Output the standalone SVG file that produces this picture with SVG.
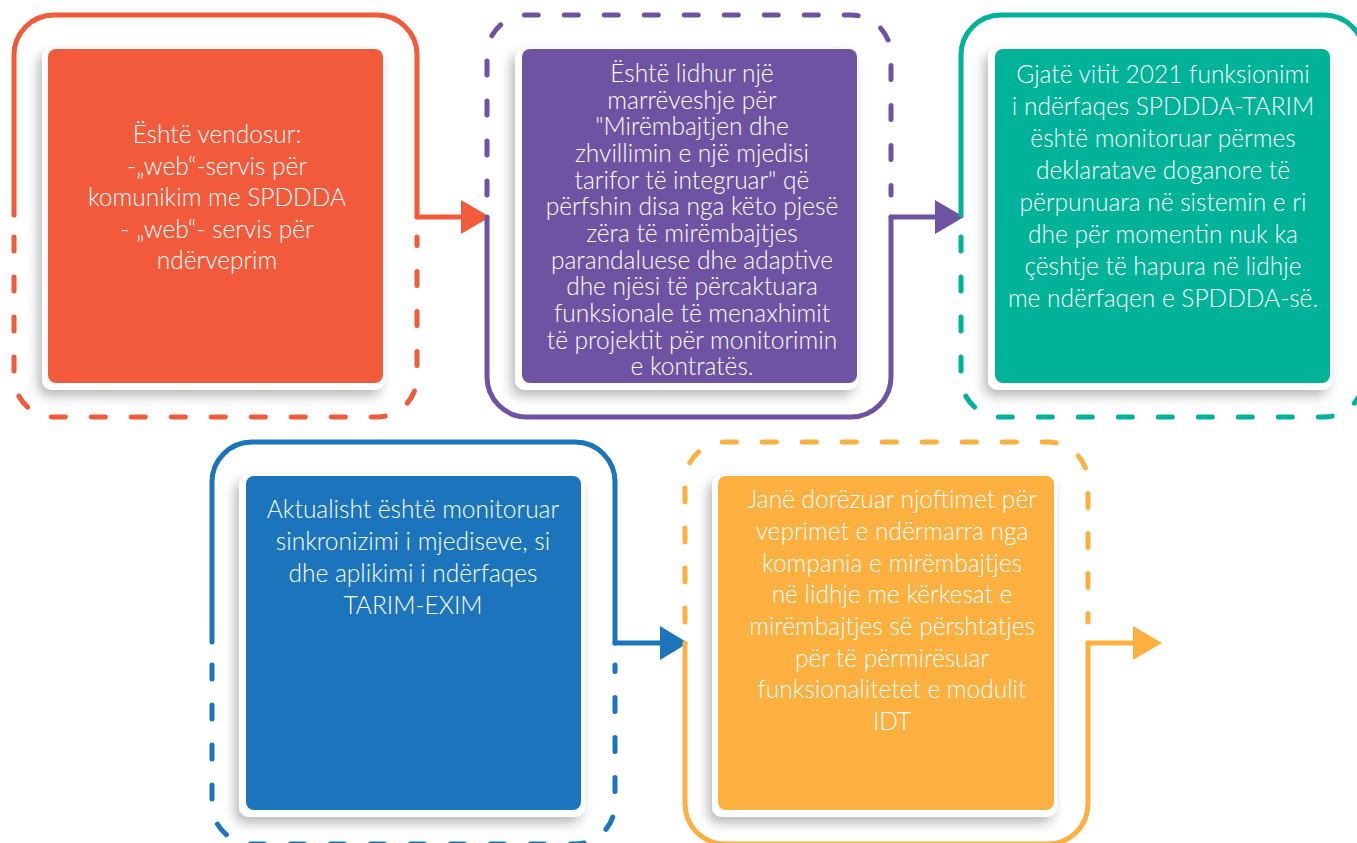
<svg xmlns="http://www.w3.org/2000/svg" width="1357" height="843" viewBox="0 0 1357 843">
<defs>
<filter id="sh" x="-20%" y="-20%" width="140%" height="140%">
<feDropShadow dx="-4" dy="6" stdDeviation="6" flood-color="#000" flood-opacity="0.28"/>
</filter>
<style>
.f{fill:none;stroke-width:5;stroke-linecap:round;stroke-linejoin:round}
.d{stroke-dasharray:14 26}
.t{font-family:Lato,"Open Sans","Liberation Sans",sans-serif;font-size:24.5px;font-weight:300;fill:#fff;text-anchor:middle}
.card{fill:#fff;filter:url(#sh)}
.o{stroke:#F15A3B}.p{stroke:#6E53A2}.g{stroke:#00B298}.b{stroke:#1C75BC}.y{stroke:#FBB040}
</style>
</defs>
<rect width="1357" height="843" fill="#fff"/>

<g id="connectors">
<path class="f o" d="M417,217 H463"/>
<polygon points="461,200 490,217 461,234" fill="#F15A3B"/>
<path class="f p" d="M891,217 H937"/>
<polygon points="935,200 964,217 935,234" fill="#6E53A2"/>
<path class="f b" d="M615,643 H662"/>
<polygon points="660,626 688,643 660,660" fill="#1C75BC"/>
<path class="f y" d="M1088,643 H1135"/>
<polygon points="1133,626 1162,643 1133,660" fill="#FBB040"/>
</g>

<g id="node1">
<path class="f o" d="M14,215 V55 A40,40 0 0 1 54,15 H377 A40,40 0 0 1 417,55 V217"/>
<path class="f o d" d="M14,237 V377 A40,40 0 0 0 54,417 H377 A40,40 0 0 0 417,377 V237"/>
<rect class="card" x="42" y="48" width="343" height="342" rx="10"/>
<rect x="48" y="49" width="335" height="334" rx="8" fill="#F15A3B"/>
<text class="t" x="217"><tspan x="217" y="143">Është vendosur:</tspan><tspan x="217" y="175">-„web“-servis për</tspan><tspan x="217" y="206">komunikim me SPDDDA</tspan><tspan x="217" y="238">- „web“- servis për</tspan><tspan x="217" y="269">ndërveprim</tspan></text>
</g>

<g id="node2">
<path class="f p d" d="M487,195 V55 A40,40 0 0 1 527,15 H851 A40,40 0 0 1 891,55 V195"/>
<path class="f p" d="M487,217 V377 A40,40 0 0 0 527,417 H851 A40,40 0 0 0 891,377 V217"/>
<rect class="card" x="515" y="48" width="343" height="342" rx="10"/>
<rect x="522" y="49" width="335" height="334" rx="8" fill="#6E53A2"/>
<text class="t"><tspan x="692" y="82">Është lidhur një</tspan><tspan x="692" y="108.7">marrëveshje për</tspan><tspan x="692" y="135.3">"Mirëmbajtjen dhe</tspan><tspan x="692" y="162">zhvillimin e një mjedisi</tspan><tspan x="692" y="188.7">tarifor të integruar" që</tspan><tspan x="692" y="215.3">përfshin disa nga këto pjesë</tspan><tspan x="692" y="242">zëra të mirëmbajtjes</tspan><tspan x="692" y="268.7">parandaluese dhe adaptive</tspan><tspan x="692" y="295.3">dhe njësi të përcaktuara</tspan><tspan x="692" y="322">funksionale të menaxhimit</tspan><tspan x="692" y="348.7">të projektit për monitorimin</tspan><tspan x="692" y="375.3">e kontratës.</tspan></text>
</g>

<g id="node3">
<path class="f g" d="M961,215 V55 A40,40 0 0 1 1001,15 H1324 A40,40 0 0 1 1364,55 V215"/>
<path class="f g d" d="M961,237 V377 A40,40 0 0 0 1001,417 H1324 A40,40 0 0 0 1364,377 V237"/>
<rect class="card" x="988" y="48" width="344" height="342" rx="10"/>
<rect x="995" y="49" width="335" height="334" rx="8" fill="#00B298"/>
<text class="t"><tspan x="1163" y="83">Gjatë vitit 2021 funksionimi</tspan><tspan x="1163" y="115">i ndërfaqes SPDDDA-TARIM</tspan><tspan x="1163" y="147">është monitoruar përmes</tspan><tspan x="1163" y="179">deklaratave doganore të</tspan><tspan x="1163" y="211">përpunuara në sistemin e ri</tspan><tspan x="1163" y="243">dhe për momentin nuk ka</tspan><tspan x="1163" y="275">çështje të hapura në lidhje</tspan><tspan x="1163" y="307">me ndërfaqen e SPDDDA-së.</tspan></text>
</g>

<g id="node4">
<path class="f b" d="M212,642 V482 A40,40 0 0 1 252,442 H575 A40,40 0 0 1 615,482 V643"/>
<path class="f b d" d="M212,665 V804 A40,40 0 0 0 252,844 H575 A40,40 0 0 0 615,804 V665"/>
<rect class="card" x="239" y="475" width="346" height="342" rx="10"/>
<rect x="246" y="476" width="335" height="334" rx="8" fill="#1C75BC"/>
<text class="t"><tspan x="413" y="518">Aktualisht është monitoruar</tspan><tspan x="413" y="550">sinkronizimi i mjediseve, si</tspan><tspan x="413" y="582">dhe aplikimi i ndërfaqes</tspan><tspan x="413" y="614">TARIM-EXIM</tspan></text>
</g>

<g id="node5">
<path class="f y d" d="M685,622 V482 A40,40 0 0 1 725,442 H1048 A40,40 0 0 1 1088,482 V622"/>
<path class="f y" d="M685,643 V804 A40,40 0 0 0 725,844 H1048 A40,40 0 0 0 1088,804 V643"/>
<rect class="card" x="712" y="475" width="345" height="342" rx="10"/>
<rect x="718" y="476" width="336" height="334" rx="8" fill="#FBB040"/>
<text class="t"><tspan x="892" y="508">Janë dorëzuar njoftimet për</tspan><tspan x="892" y="540">veprimet e ndërmarra nga</tspan><tspan x="892" y="572">kompania e mirëmbajtjes</tspan><tspan x="892" y="603">në lidhje me kërkesat e</tspan><tspan x="892" y="635">mirëmbajtjes së përshtatjes</tspan><tspan x="892" y="667">për të përmirësuar</tspan><tspan x="892" y="698">funksionalitetet e modulit</tspan><tspan x="892" y="730">IDT</tspan></text>
</g>
</svg>
